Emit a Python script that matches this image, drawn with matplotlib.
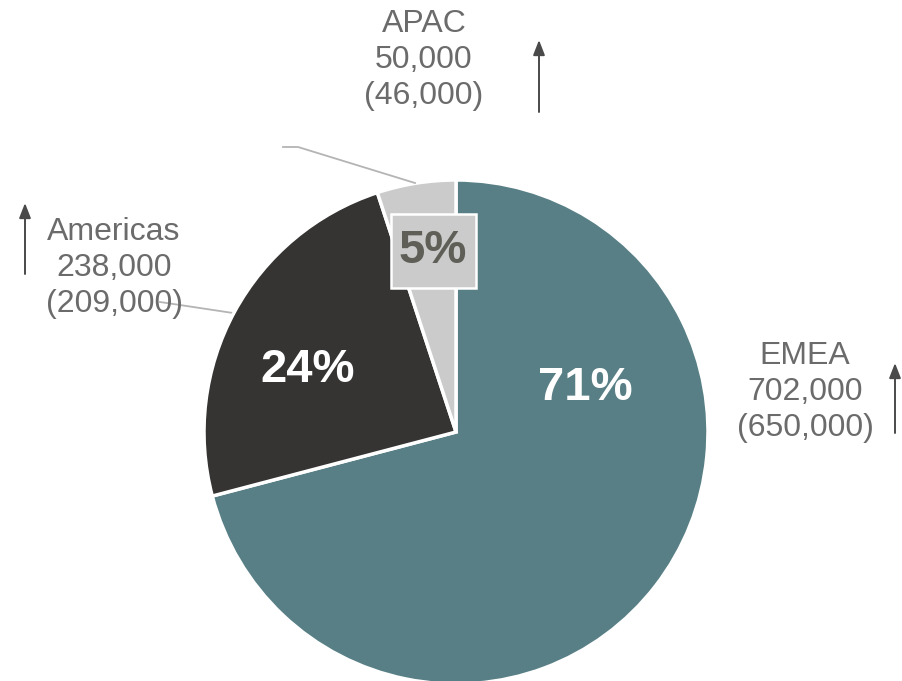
import matplotlib
matplotlib.use("Agg")
import matplotlib.pyplot as plt
from matplotlib.patches import Rectangle

plt.rcParams["font.family"] = ["Liberation Sans", "DejaVu Sans"]

# regional totals, current year and (prior year)
regions = ["EMEA", "Americas", "APAC"]
current = [702000, 238000, 50000]
prior = [650000, 209000, 46000]

colors = ["#587F85", "#363432", "#CBCBCB"]
pct_colors = ["white", "white", "#5F5F58"]
label_grey = "#6B6B6B"

W, H = 902, 681
fig = plt.figure(figsize=(W / 100, H / 100), dpi=100)
ax = fig.add_axes([0, 0, 1, 1])


def py(y):
    # pixel rows counted from the top
    return H - y


cx, cy, r = 456, py(432), 252
ax.pie(
    current, colors=colors, startangle=90, counterclock=False,
    center=(cx, cy), radius=r, frame=True,
    wedgeprops=dict(edgecolor="white", linewidth=2.5),
)
ax.set_xlim(0, W)
ax.set_ylim(0, H)
ax.set_aspect("equal")
ax.axis("off")

total = sum(current)
pct_pos = [(585, 388), (308, 370), (433, 251)]
for i, (x, y) in enumerate(pct_pos):
    if regions[i] == "APAC":
        # small slice gets its label on a boxed patch
        ax.add_patch(Rectangle((x - 42, py(y) - 37), 85, 74, facecolor="#CBCBCB",
                               edgecolor="white", linewidth=1.8, zorder=3))
    ax.text(x, py(y), f"{current[i] / total:.0%}", ha="center", va="center",
            fontsize=34, fontweight="bold", color=pct_colors[i], zorder=4)

# leader lines
line_grey = "#B4B4B4"
ax.plot([283, 298, 415], [py(147), py(147), py(183)], color=line_grey, lw=1.3)
ax.plot([160, 233], [py(302), py(313)], color=line_grey, lw=1.3, zorder=0.5)

# region labels with growth arrows
lab_pos = [(805, 392), (114, 268), (424, 60)]
arrow_x = [895, 25, 539]
arrow_y = [(433, 363), (274, 203), (112, 40)]
for i, (x, y) in enumerate(lab_pos):
    ax.text(x, py(y), f"{regions[i]}\n{current[i]:,}\n({prior[i]:,})",
            ha="center", va="center", fontsize=23, color=label_grey,
            linespacing=1.27)
    y0, y1 = arrow_y[i]
    ax.annotate("", xy=(arrow_x[i], py(y1)), xytext=(arrow_x[i], py(y0)),
                arrowprops=dict(arrowstyle="-|>,head_width=0.35,head_length=0.9",
                                color="#4A4A4A", lw=1.4, shrinkA=0, shrinkB=0))

fig.savefig("out.png", dpi=100)
